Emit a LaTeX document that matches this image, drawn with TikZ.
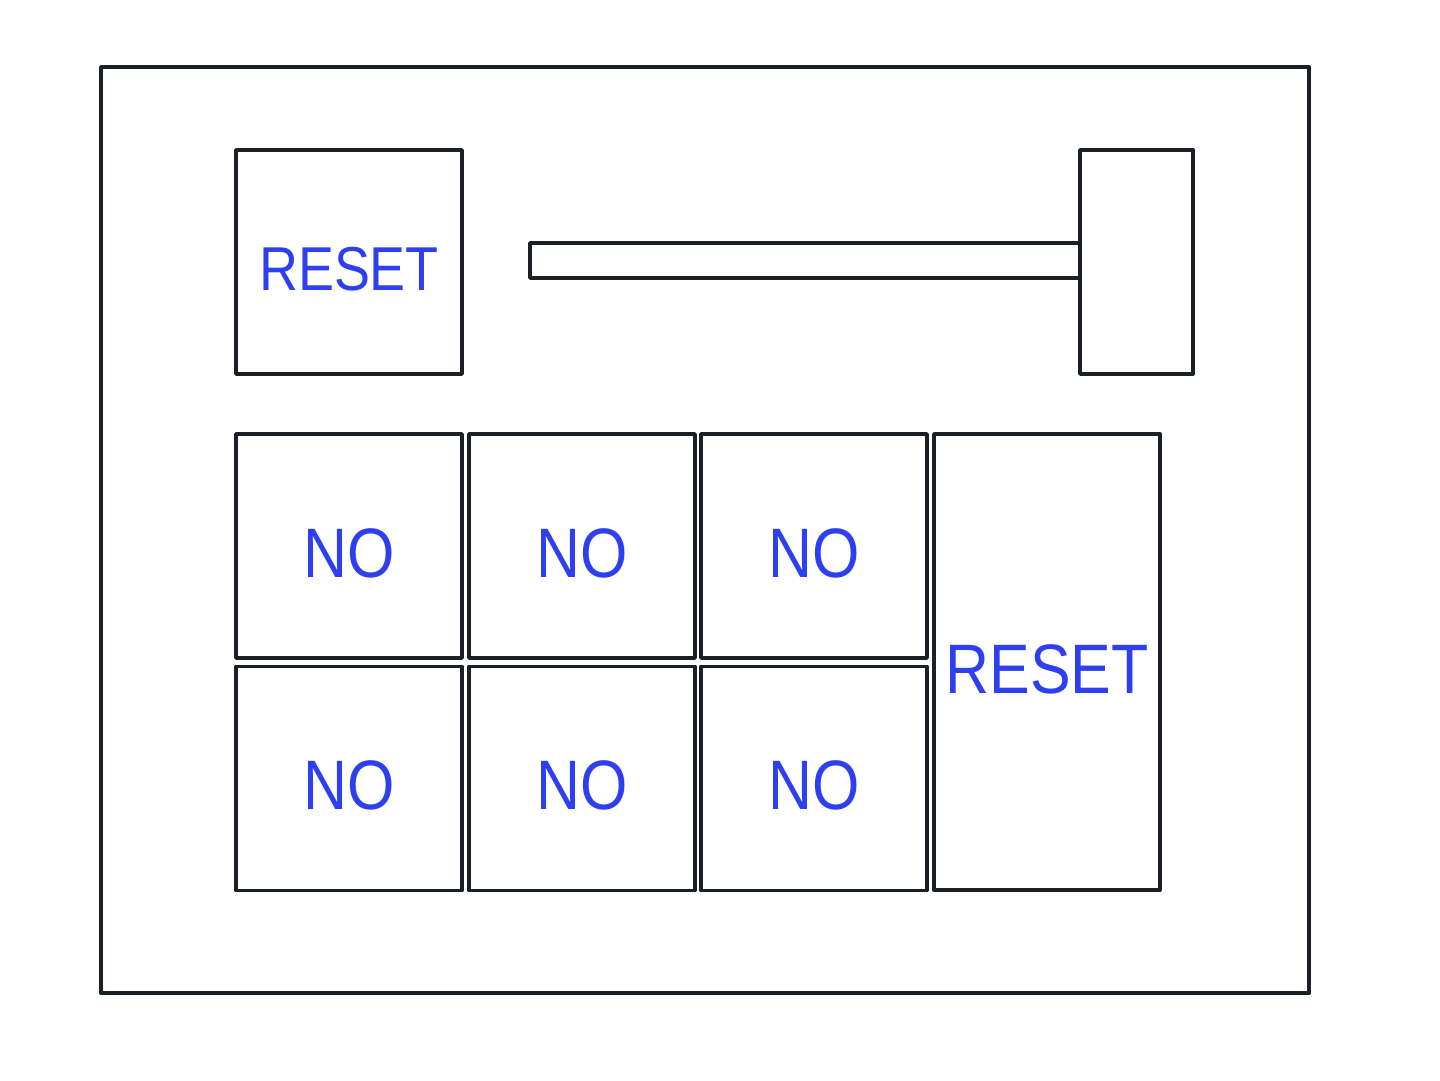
\documentclass[tikz,border=0pt]{standalone}
\usepackage{fontspec}
\usepackage{tikz}
\usepackage{xcolor}
\usetikzlibrary{positioning}
\newfontfamily\padfont[FakeStretch=0.87]{Liberation Sans}
\definecolor{PadInk}{HTML}{1B1F26}
\definecolor{PadBlue}{HTML}{2E3FF0}

\begin{document}
\begin{tikzpicture}[
    x=1pt, y=-1pt,
    line width=3.8pt,
    line join=round,
    frame/.style={
      draw=PadInk,
      rectangle,
      inner sep=0pt,
    },
    key/.style={
      frame,
      minimum width=226pt,
      minimum height=224pt,
      text=PadBlue,
      text height=62pt,
      text depth=0pt,
      font=\padfont\fontsize{70}{84}\selectfont,
    },
  ]
    \useasboundingbox (0,0) rectangle (1440,1080);

    % ---- housing ----
    \node[frame, minimum width=1208pt, minimum height=926pt] (housing) at (705,530) {};

    % ---- top row: reset button and slider ----
    \node[key, text height=56pt,
      font=\padfont\fontsize{62}{74}\selectfont] (topreset) at (349,262) {RESET};
    \node[frame, minimum width=550pt, minimum height=35pt] (track) at (805,260.5) {};
    \node[frame, fill=white, minimum width=113pt, minimum height=224pt] (knob) at (1136.5,262) {};

    % ---- keypad ----
    \node[key] (k11) at (349,546) {NO};
    \node[key] (k12) at (582,546) {NO};
    \node[key] (k13) at (814,546) {NO};
    \node[key] (k21) at (349,778.5) {NO};
    \node[key] (k22) at (582,778.5) {NO};
    \node[key] (k23) at (814,778.5) {NO};
    \node[key, minimum height=456pt] (sidereset) at (1047,662) {RESET};
  \end{tikzpicture}
\end{document}
